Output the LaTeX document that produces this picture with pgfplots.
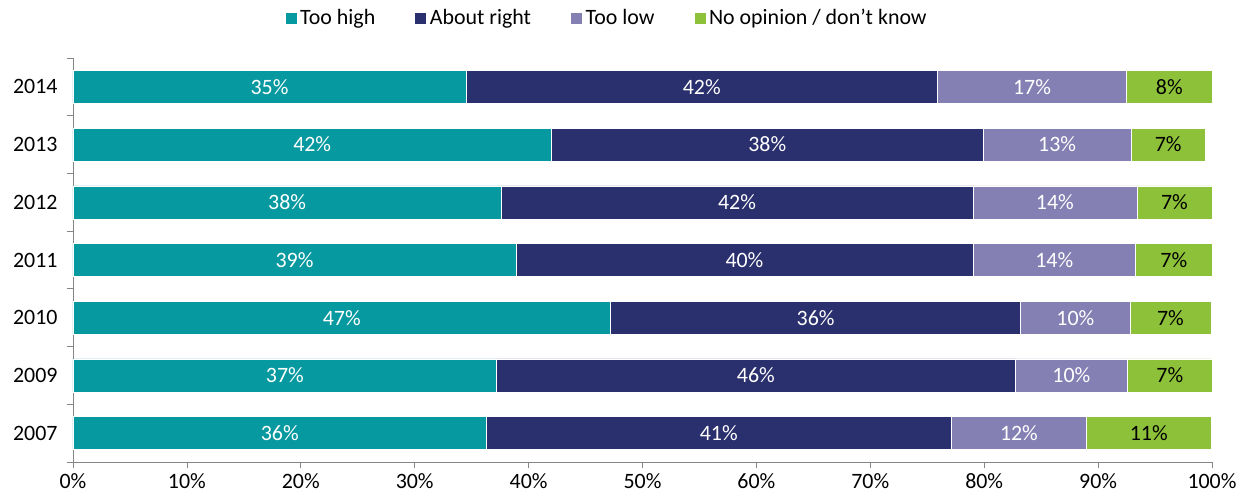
\documentclass[border=0pt]{standalone}
\usepackage{fontspec}
\setmainfont{Carlito}
\usepackage{pgfplots}
\pgfplotsset{compat=1.18}
\definecolor{tealbar}{HTML}{0799A0}
\definecolor{navybar}{HTML}{2A2F6D}
\definecolor{lavbar}{HTML}{8580B3}
\definecolor{greenbar}{HTML}{8DC13A}
\definecolor{axgray}{HTML}{868686}
\newcommand\fsz{\fontsize{22}{26}\selectfont}
\begin{document}
\begin{tikzpicture}
  \begin{axis}[
    xbar stacked,
    scale only axis,
    width=1139bp, height=404bp,
    bar width=33bp,
    xmin=0, xmax=100,
    ymin=-0.5, ymax=6.5,
    axis x line*=bottom,
    axis y line*=left,
    axis line style={axgray, line width=0.8bp},
    tick align=outside,
    xtick={0,10,...,100},
    xticklabel={\pgfmathprintnumber{\tick}\%},
    xtick style={axgray, line width=0.8bp},
    major tick length=6bp,
    ytick={0,...,6},
    yticklabels={2007,2009,2010,2011,2012,2013,2014},
    ytick style={draw=none},
    minor ytick={-0.5,0.5,...,6.5},
    minor tick length=6bp,
    minor y tick style={axgray, line width=0.8bp, draw=axgray},
    /pgf/number format/assume math mode=true,
    tick label style={font=\fsz, black},
    xticklabel style={yshift=-2bp},
    yticklabel style={xshift=-6bp},
    point meta=explicit symbolic,
    nodes near coords,
    every node near coord/.append style={anchor=center, font=\fsz},
    legend columns=-1,
    legend style={at={(0.469,1.099)}, anchor=center, draw=none, fill=none,
      font=\fsz, inner sep=0pt, nodes={inner xsep=3bp},
      /tikz/every even column/.append style={column sep=36bp}},
    legend image code/.code={\fill[#1] (0bp,-6bp) rectangle (12bp,6bp);},
    clip=false,
  ]
    % segment widths in %, shown labels in brackets
    \addplot[fill=tealbar, draw=white, line width=0.5bp,
      every node near coord/.append style={text=white}] coordinates {
      (36.3,0) [36\%] (37.2,1) [37\%] (47.2,2) [47\%] (38.9,3) [39\%]
      (37.6,4) [38\%] (42.0,5) [42\%] (34.5,6) [35\%]};
    \addplot[fill=navybar, draw=white, line width=0.5bp,
      every node near coord/.append style={text=white}] coordinates {
      (40.8,0) [41\%] (45.5,1) [46\%] (36.0,2) [36\%] (40.1,3) [40\%]
      (41.4,4) [42\%] (37.9,5) [38\%] (41.4,6) [42\%]};
    \addplot[fill=lavbar, draw=white, line width=0.5bp,
      every node near coord/.append style={text=white}] coordinates {
      (11.9,0) [12\%] (9.9,1) [10\%] (9.6,2) [10\%] (14.3,3) [14\%]
      (14.4,4) [14\%] (13.0,5) [13\%] (16.6,6) [17\%]};
    \addplot[fill=greenbar, draw=white, line width=0.5bp,
      every node near coord/.append style={text=black}] coordinates {
      (10.9,0) [11\%] (7.4,1) [7\%] (7.1,2) [7\%] (6.7,3) [7\%]
      (6.6,4) [7\%] (6.5,5) [7\%] (7.5,6) [8\%]};
    \legend{Too high, About right, Too low, No opinion / don't know}
    \coordinate (ll) at (rel axis cs:0,0);
    \coordinate (ur) at (rel axis cs:1,1);
  \end{axis}
  \pgfresetboundingbox
  \path ([xshift=-73bp,yshift=-40bp]ll) rectangle ([xshift=35bp,yshift=58bp]ur);
\end{tikzpicture}
\end{document}
